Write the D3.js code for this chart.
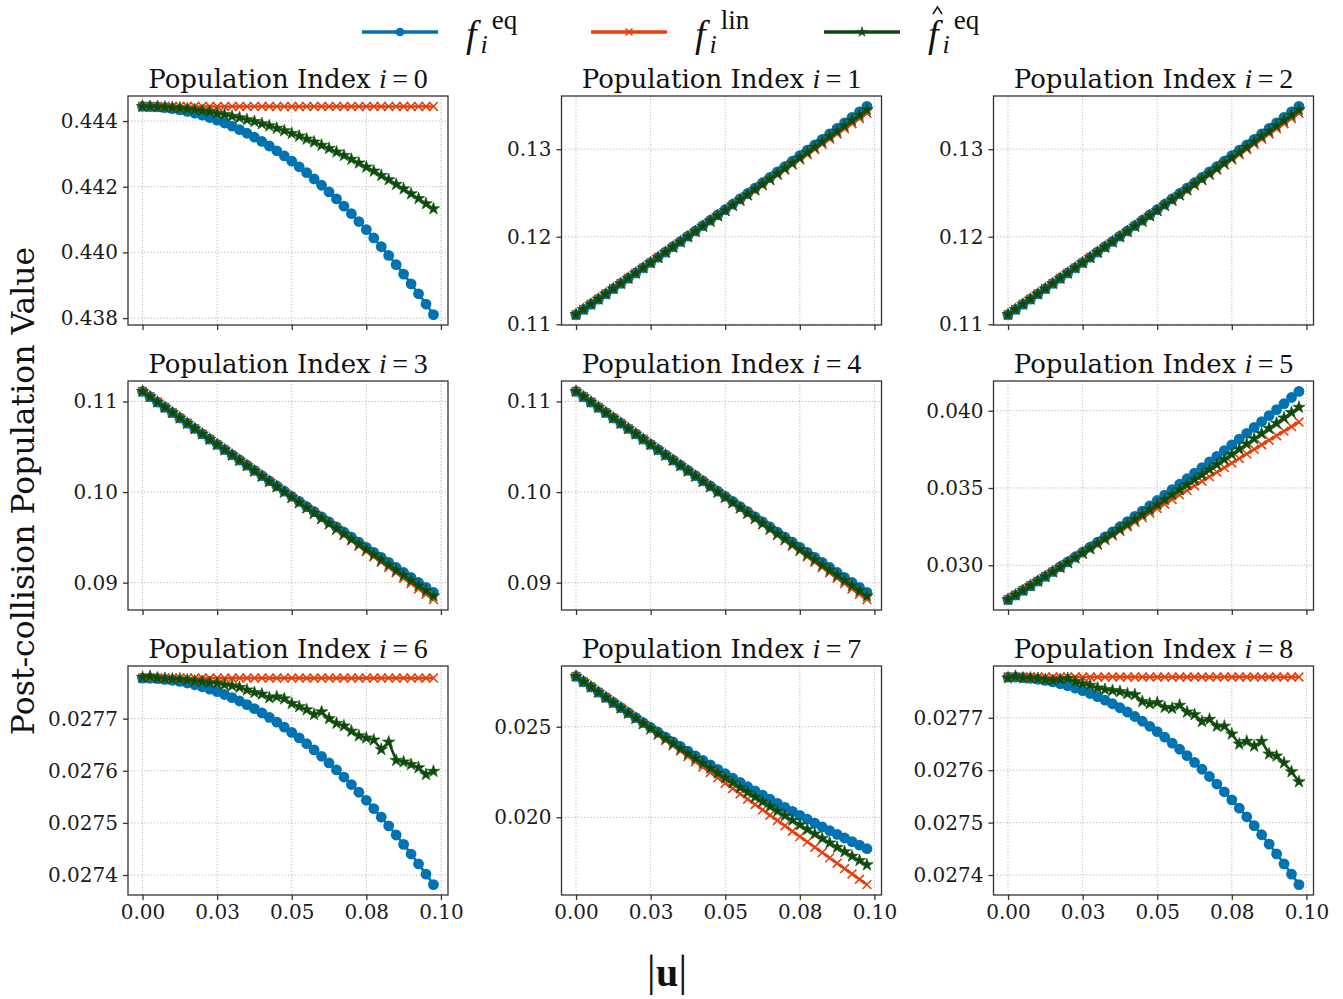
<!DOCTYPE html>
<html>
<head>
<meta charset="utf-8">
<script src="https://cdn.jsdelivr.net/npm/d3@7"></script>
<style>
  html, body { margin: 0; padding: 0; background: #ffffff; }
  svg { display: block; }
</style>
</head>
<body>
<script>
// Speed magnitude |u| sampled for every population
const uMag = [0, 0.0025, 0.005, 0.0075, 0.01, 0.0125, 0.015, 0.0175, 0.02, 0.0225,
  0.025, 0.0275, 0.03, 0.0325, 0.035, 0.0375, 0.04, 0.0425, 0.045, 0.0475,
  0.05, 0.0525, 0.055, 0.0575, 0.06, 0.0625, 0.065, 0.0675, 0.07, 0.0725,
  0.075, 0.0775, 0.08, 0.0825, 0.085, 0.0875, 0.09, 0.0925, 0.095, 0.0975];

// i = 0 (rest population)
const eqI0 = [0.444444, 0.444440, 0.444428, 0.444407, 0.444378, 0.444340, 0.444294, 0.444240, 0.444178, 0.444107,
  0.444028, 0.443940, 0.443844, 0.443740, 0.443628, 0.443507, 0.443378, 0.443240, 0.443094, 0.442940,
  0.442778, 0.442607, 0.442428, 0.442240, 0.442044, 0.441840, 0.441628, 0.441407, 0.441178, 0.440940,
  0.440694, 0.440440, 0.440178, 0.439907, 0.439628, 0.439340, 0.439044, 0.438740, 0.438428, 0.438107];
const linI0 = [0.444444, 0.444444, 0.444444, 0.444444, 0.444444, 0.444444, 0.444444, 0.444444, 0.444444, 0.444444,
  0.444444, 0.444444, 0.444444, 0.444444, 0.444444, 0.444444, 0.444444, 0.444444, 0.444444, 0.444444,
  0.444444, 0.444444, 0.444444, 0.444444, 0.444444, 0.444444, 0.444444, 0.444444, 0.444444, 0.444444,
  0.444444, 0.444444, 0.444444, 0.444444, 0.444444, 0.444444, 0.444444, 0.444444, 0.444444, 0.444444];
const predI0 = [0.444445, 0.444441, 0.444434, 0.444425, 0.444410, 0.444394, 0.444369, 0.444345, 0.444311, 0.444279,
  0.444237, 0.444197, 0.444147, 0.444099, 0.444040, 0.443984, 0.443917, 0.443853, 0.443778, 0.443705,
  0.443622, 0.443541, 0.443450, 0.443361, 0.443261, 0.443164, 0.443056, 0.442951, 0.442835, 0.442721,
  0.442597, 0.442475, 0.442343, 0.442213, 0.442072, 0.441934, 0.441785, 0.441639, 0.441482, 0.441327];

// i = 1, 2 (axis directions aligned with the flow)
const eqAxisFwd = [0.111111, 0.111701, 0.112292, 0.112884, 0.113476, 0.114070, 0.114666, 0.115262, 0.115858, 0.116456,
  0.117056, 0.117656, 0.118257, 0.118859, 0.119463, 0.120067, 0.120672, 0.121279, 0.121887, 0.122495,
  0.123104, 0.123715, 0.124327, 0.124940, 0.125553, 0.126168, 0.126784, 0.127401, 0.128018, 0.128637,
  0.129258, 0.129879, 0.130500, 0.131124, 0.131748, 0.132373, 0.132999, 0.133627, 0.134255, 0.134884];
const linAxisFwd = [0.111111, 0.111700, 0.112290, 0.112879, 0.113468, 0.114057, 0.114647, 0.115236, 0.115825, 0.116414,
  0.117004, 0.117593, 0.118182, 0.118771, 0.119361, 0.119950, 0.120539, 0.121128, 0.121718, 0.122307,
  0.122896, 0.123485, 0.124075, 0.124664, 0.125253, 0.125842, 0.126432, 0.127021, 0.127610, 0.128199,
  0.128789, 0.129378, 0.129967, 0.130557, 0.131146, 0.131735, 0.132324, 0.132914, 0.133503, 0.134092];
const predAxisFwd = [0.111111, 0.111700, 0.112291, 0.112881, 0.113472, 0.114064, 0.114656, 0.115249, 0.115842, 0.116435,
  0.117030, 0.117625, 0.118220, 0.118815, 0.119412, 0.120009, 0.120606, 0.121203, 0.121802, 0.122401,
  0.123000, 0.123600, 0.124201, 0.124802, 0.125403, 0.126005, 0.126608, 0.127211, 0.127814, 0.128418,
  0.129023, 0.129628, 0.130234, 0.130841, 0.131447, 0.132054, 0.132662, 0.133271, 0.133879, 0.134488];

// i = 3, 4 (axis directions against the flow)
const eqAxisBwd = [0.111111, 0.110523, 0.109934, 0.109348, 0.108762, 0.108178, 0.107594, 0.107012, 0.106430, 0.105850,
  0.105270, 0.104692, 0.104115, 0.103539, 0.102963, 0.102389, 0.101816, 0.101245, 0.100673, 0.100103,
  0.099534, 0.098967, 0.098399, 0.097834, 0.097269, 0.096706, 0.096142, 0.095581, 0.095020, 0.094461,
  0.093902, 0.093345, 0.092788, 0.092232, 0.091678, 0.091125, 0.090573, 0.090021, 0.089471, 0.088922];
const linAxisBwd = [0.111111, 0.110522, 0.109932, 0.109343, 0.108754, 0.108165, 0.107575, 0.106986, 0.106397, 0.105808,
  0.105218, 0.104629, 0.104040, 0.103451, 0.102861, 0.102272, 0.101683, 0.101094, 0.100504, 0.099915,
  0.099326, 0.098737, 0.098147, 0.097558, 0.096969, 0.096380, 0.095790, 0.095201, 0.094612, 0.094023,
  0.093433, 0.092844, 0.092255, 0.091665, 0.091076, 0.090487, 0.089898, 0.089308, 0.088719, 0.088130];
const predAxisBwd = [0.111111, 0.110522, 0.109933, 0.109345, 0.108758, 0.108172, 0.107584, 0.106999, 0.106414, 0.105829,
  0.105244, 0.104661, 0.104078, 0.103495, 0.102912, 0.102331, 0.101750, 0.101169, 0.100588, 0.100009,
  0.099430, 0.098852, 0.098273, 0.097696, 0.097119, 0.096543, 0.095966, 0.095391, 0.094816, 0.094242,
  0.093667, 0.093094, 0.092522, 0.091949, 0.091377, 0.090806, 0.090236, 0.089665, 0.089095, 0.088526];

// i = 5 (diagonal along the flow)
const eqI5 = [0.027778, 0.028073, 0.028372, 0.028674, 0.028977, 0.029284, 0.029593, 0.029904, 0.030218, 0.030535,
  0.030854, 0.031177, 0.031501, 0.031828, 0.032158, 0.032490, 0.032825, 0.033162, 0.033503, 0.033846,
  0.034191, 0.034539, 0.034890, 0.035243, 0.035599, 0.035958, 0.036318, 0.036682, 0.037048, 0.037417,
  0.037789, 0.038162, 0.038539, 0.038919, 0.039300, 0.039685, 0.040072, 0.040462, 0.040854, 0.041249];
const linI5 = [0.027778, 0.028072, 0.028367, 0.028662, 0.028956, 0.029251, 0.029546, 0.029840, 0.030135, 0.030429,
  0.030724, 0.031019, 0.031313, 0.031608, 0.031903, 0.032197, 0.032492, 0.032786, 0.033081, 0.033376,
  0.033670, 0.033965, 0.034260, 0.034554, 0.034849, 0.035144, 0.035438, 0.035733, 0.036027, 0.036322,
  0.036617, 0.036911, 0.037206, 0.037501, 0.037795, 0.038090, 0.038384, 0.038679, 0.038974, 0.039268];
const predI5 = [0.027778, 0.028073, 0.028370, 0.028668, 0.028966, 0.029267, 0.029569, 0.029871, 0.030175, 0.030480,
  0.030787, 0.031095, 0.031403, 0.031714, 0.032026, 0.032338, 0.032652, 0.032967, 0.033284, 0.033602,
  0.033920, 0.034241, 0.034563, 0.034885, 0.035209, 0.035535, 0.035861, 0.036189, 0.036517, 0.036848,
  0.037180, 0.037512, 0.037846, 0.038182, 0.038518, 0.038856, 0.039194, 0.039535, 0.039877, 0.040219];

// i = 6, 8 (diagonals perpendicular to the flow)
const eqDiagPerp = [0.0277778, 0.0277775, 0.0277768, 0.0277754, 0.0277736, 0.0277713, 0.0277684, 0.0277650, 0.0277611, 0.0277567,
  0.0277518, 0.0277463, 0.0277403, 0.0277338, 0.0277268, 0.0277192, 0.0277111, 0.0277025, 0.0276934, 0.0276838,
  0.0276736, 0.0276630, 0.0276518, 0.0276400, 0.0276278, 0.0276150, 0.0276018, 0.0275880, 0.0275736, 0.0275588,
  0.0275434, 0.0275275, 0.0275111, 0.0274942, 0.0274768, 0.0274588, 0.0274403, 0.0274213, 0.0274018, 0.0273817];
const linDiagPerp = [0.0277778, 0.0277778, 0.0277778, 0.0277778, 0.0277778, 0.0277778, 0.0277778, 0.0277778, 0.0277778, 0.0277778,
  0.0277778, 0.0277778, 0.0277778, 0.0277778, 0.0277778, 0.0277778, 0.0277778, 0.0277778, 0.0277778, 0.0277778,
  0.0277778, 0.0277778, 0.0277778, 0.0277778, 0.0277778, 0.0277778, 0.0277778, 0.0277778, 0.0277778, 0.0277778,
  0.0277778, 0.0277778, 0.0277778, 0.0277778, 0.0277778, 0.0277778, 0.0277778, 0.0277778, 0.0277778, 0.0277778];
const predI6 = [0.027779, 0.027781, 0.027778, 0.027777, 0.027776, 0.027776, 0.027774, 0.027772, 0.027771, 0.027769,
  0.027768, 0.027765, 0.027763, 0.027760, 0.027755, 0.027750, 0.027747, 0.027740, 0.027742, 0.027738,
  0.027729, 0.027723, 0.027717, 0.027708, 0.027713, 0.027700, 0.027691, 0.027686, 0.027676, 0.027667,
  0.027663, 0.027659, 0.027641, 0.027655, 0.027620, 0.027617, 0.027612, 0.027606, 0.027593, 0.027599];
const predI8 = [0.027776, 0.027779, 0.027776, 0.027776, 0.027775, 0.027773, 0.027771, 0.027773, 0.027775, 0.027769,
  0.027765, 0.027762, 0.027757, 0.027754, 0.027752, 0.027750, 0.027746, 0.027744, 0.027731, 0.027727,
  0.027729, 0.027720, 0.027718, 0.027724, 0.027711, 0.027706, 0.027693, 0.027697, 0.027684, 0.027684,
  0.027669, 0.027650, 0.027655, 0.027646, 0.027655, 0.027631, 0.027627, 0.027614, 0.027597, 0.027578];

// i = 7 (diagonal against the flow)
const eqI7 = [0.027778, 0.027484, 0.027194, 0.026906, 0.026620, 0.026338, 0.026057, 0.025779, 0.025504, 0.025232,
  0.024961, 0.024695, 0.024430, 0.024168, 0.023908, 0.023651, 0.023397, 0.023145, 0.022896, 0.022650,
  0.022406, 0.022165, 0.021926, 0.021690, 0.021457, 0.021226, 0.020997, 0.020772, 0.020549, 0.020328,
  0.020111, 0.019895, 0.019683, 0.019473, 0.019265, 0.019061, 0.018859, 0.018659, 0.018462, 0.018268];
const linI7 = [0.027778, 0.027483, 0.027189, 0.026894, 0.026599, 0.026305, 0.026010, 0.025715, 0.025421, 0.025126,
  0.024831, 0.024537, 0.024242, 0.023948, 0.023653, 0.023358, 0.023064, 0.022769, 0.022474, 0.022180,
  0.021885, 0.021591, 0.021296, 0.021001, 0.020707, 0.020412, 0.020117, 0.019823, 0.019528, 0.019233,
  0.018939, 0.018644, 0.018350, 0.018055, 0.017760, 0.017466, 0.017171, 0.016876, 0.016582, 0.016287];
const predI7 = [0.027778, 0.027484, 0.027192, 0.026900, 0.026610, 0.026323, 0.026036, 0.025750, 0.025467, 0.025184,
  0.024903, 0.024624, 0.024345, 0.024069, 0.023793, 0.023519, 0.023247, 0.022976, 0.022706, 0.022439,
  0.022171, 0.021907, 0.021643, 0.021380, 0.021120, 0.020860, 0.020601, 0.020345, 0.020089, 0.019835,
  0.019584, 0.019332, 0.019083, 0.018835, 0.018588, 0.018343, 0.018099, 0.017856, 0.017616, 0.017376];

// Tick positions and labels
const xTickValues = [0, 0.025, 0.05, 0.075, 0.1];
const xTickLabels = ["0.00", "0.03", "0.05", "0.08", "0.10"];
const yTicksI0 = [0.438, 0.440, 0.442, 0.444];
const yLabelsI0 = ["0.438", "0.440", "0.442", "0.444"];
const yTicksFwd = [0.11, 0.12, 0.13];
const yLabelsFwd = ["0.11", "0.12", "0.13"];
const yTicksBwd = [0.09, 0.10, 0.11];
const yLabelsBwd = ["0.09", "0.10", "0.11"];
const yTicksI5 = [0.030, 0.035, 0.040];
const yLabelsI5 = ["0.030", "0.035", "0.040"];
const yTicksPerp = [0.0274, 0.0275, 0.0276, 0.0277];
const yLabelsPerp = ["0.0274", "0.0275", "0.0276", "0.0277"];
const yTicksI7 = [0.020, 0.025];
const yLabelsI7 = ["0.020", "0.025"];

const panels = [
  { index: 0, eq: eqI0, lin: linI0, pred: predI0, yTicks: yTicksI0, yLabels: yLabelsI0 },
  { index: 1, eq: eqAxisFwd, lin: linAxisFwd, pred: predAxisFwd, yTicks: yTicksFwd, yLabels: yLabelsFwd },
  { index: 2, eq: eqAxisFwd, lin: linAxisFwd, pred: predAxisFwd, yTicks: yTicksFwd, yLabels: yLabelsFwd },
  { index: 3, eq: eqAxisBwd, lin: linAxisBwd, pred: predAxisBwd, yTicks: yTicksBwd, yLabels: yLabelsBwd },
  { index: 4, eq: eqAxisBwd, lin: linAxisBwd, pred: predAxisBwd, yTicks: yTicksBwd, yLabels: yLabelsBwd },
  { index: 5, eq: eqI5, lin: linI5, pred: predI5, yTicks: yTicksI5, yLabels: yLabelsI5 },
  { index: 6, eq: eqDiagPerp, lin: linDiagPerp, pred: predI6, yTicks: yTicksPerp, yLabels: yLabelsPerp },
  { index: 7, eq: eqI7, lin: linI7, pred: predI7, yTicks: yTicksI7, yLabels: yLabelsI7 },
  { index: 8, eq: eqDiagPerp, lin: linDiagPerp, pred: predI8, yTicks: yTicksPerp, yLabels: yLabelsPerp }
];

const colors = { eq: "#0173b2", lin: "#e5400d", pred: "#0f480c" };

// Figure layout
const FIG_W = 1343, FIG_H = 999;
const colLeft = [128, 561.5, 993.5];
const rowTop = [96, 381, 666];
const AX_W = 320, AX_H = 229;
const SERIF = "'DejaVu Serif', serif";
const MATH = "'Liberation Serif', 'Times New Roman', serif";

const svg = d3.select("body").append("svg")
  .attr("width", FIG_W).attr("height", FIG_H)
  .attr("viewBox", `0 0 ${FIG_W} ${FIG_H}`);
svg.append("rect").attr("width", FIG_W).attr("height", FIG_H).attr("fill", "#ffffff");

// matplotlib-style 5% autoscale margin
function padded(ext) {
  const span = ext[1] - ext[0];
  return [ext[0] - 0.05 * span, ext[1] + 0.05 * span];
}

const starPath = d3.symbol().type(d3.symbolStar);
const circlePath = d3.symbol().type(d3.symbolCircle);

function drawMarker(sel, kind, scale) {
  const s = scale || 1;
  if (kind === "eq") {
    sel.append("path").attr("d", circlePath.size(Math.PI * Math.pow(5.4 * s, 2))())
      .attr("fill", colors.eq);
  } else if (kind === "lin") {
    const r = 4.4 * s;
    sel.append("path").attr("d", `M${-r},${-r}L${r},${r}M${-r},${r}L${r},${-r}`)
      .attr("stroke", colors.lin).attr("stroke-width", 1.6).attr("fill", "none");
  } else {
    sel.append("path").attr("d", starPath.size(48 * s * s)())
      .attr("fill", colors.pred).attr("stroke", "#1d5a18").attr("stroke-width", 0.7);
  }
}

panels.forEach((p, n) => {
  const col = n % 3, row = Math.floor(n / 3);
  const g = svg.append("g").attr("transform", `translate(${colLeft[col]},${rowTop[row]})`);

  const x = d3.scaleLinear().domain(padded(d3.extent(uMag))).range([0, AX_W]);
  const y = d3.scaleLinear()
    .domain(padded(d3.extent(p.eq.concat(p.lin, p.pred))))
    .range([AX_H, 0]);

  // dotted grid
  g.append("g").selectAll("line").data(xTickValues).join("line")
    .attr("x1", d => x(d)).attr("x2", d => x(d)).attr("y1", 0).attr("y2", AX_H)
    .attr("stroke", "#b8b8b8").attr("stroke-width", 1).attr("stroke-dasharray", "1.2,2");
  g.append("g").selectAll("line").data(p.yTicks).join("line")
    .attr("x1", 0).attr("x2", AX_W).attr("y1", d => y(d)).attr("y2", d => y(d))
    .attr("stroke", "#b8b8b8").attr("stroke-width", 1).attr("stroke-dasharray", "1.2,2");

  // series: line then markers, in legend order
  const series = [["eq", p.eq], ["lin", p.lin], ["pred", p.pred]];
  series.forEach(([kind, vals]) => {
    const pts = uMag.map((u, k) => [x(u), y(vals[k])]);
    g.append("path").attr("d", d3.line()(pts))
      .attr("fill", "none").attr("stroke", colors[kind])
      .attr("stroke-width", 2.6).attr("stroke-linejoin", "round");
    const mg = g.append("g");
    pts.forEach(([px, py]) => {
      drawMarker(mg.append("g").attr("transform", `translate(${px},${py})`), kind, 1);
    });
  });

  // frame
  g.append("rect").attr("width", AX_W).attr("height", AX_H)
    .attr("fill", "none").attr("stroke", "#333333").attr("stroke-width", 1.3);

  // axes: shared x, so only the bottom row carries tick labels
  const bottomRow = row === 2;
  const xAxis = d3.axisBottom(x).tickValues(xTickValues)
    .tickFormat((d, i) => bottomRow ? xTickLabels[i] : "")
    .tickSize(5).tickPadding(5).tickSizeOuter(0);
  const yAxis = d3.axisLeft(y).tickValues(p.yTicks)
    .tickFormat((d, i) => p.yLabels[i]).tickSize(5).tickPadding(5).tickSizeOuter(0);
  const xg = g.append("g").attr("transform", `translate(0,${AX_H})`).call(xAxis);
  if (!bottomRow) xg.selectAll(".tick text").remove();
  [xg, g.append("g").call(yAxis)].forEach(a => {
    a.select(".domain").remove();
    a.selectAll(".tick line").attr("stroke", "#333333").attr("stroke-width", 1.3);
    a.selectAll(".tick text").attr("fill", "#1a1a1a")
      .style("font-family", SERIF).style("font-size", "20px");
  });

  // panel title
  const t = g.append("text").attr("x", AX_W / 2).attr("y", -8)
    .attr("text-anchor", "middle").attr("fill", "#111")
    .style("font-family", SERIF).style("font-size", "26px");
  t.append("tspan").text("Population Index ");
  t.append("tspan").style("font-family", MATH).style("font-style", "italic")
    .style("font-size", "28px").text("i");
  t.append("tspan").style("font-family", MATH).style("font-size", "28px")
    .text("\u2009=\u2009" + p.index);
});

// shared axis labels
svg.append("text")
  .attr("transform", "translate(34,491) rotate(-90)")
  .attr("text-anchor", "middle").attr("fill", "#111")
  .style("font-family", SERIF).style("font-size", "31.5px")
  .text("Post-collision Population Value");

const xl = svg.append("text").attr("x", 667).attr("y", 986)
  .attr("text-anchor", "middle").attr("fill", "#111")
  .style("font-family", MATH);
xl.append("tspan").style("font-size", "45px").text("|");
xl.append("tspan").style("font-size", "40px").style("font-weight", "bold").text("u");
xl.append("tspan").style("font-size", "45px").text("|");

// legend
const legendItems = [
  { kind: "eq", x0: 362, sup: "eq", hat: false },
  { kind: "lin", x0: 591, sup: "lin", hat: false },
  { kind: "pred", x0: 824, sup: "eq", hat: true }
];
const legY = 32;
legendItems.forEach(it => {
  const lg = svg.append("g");
  lg.append("line").attr("x1", it.x0).attr("x2", it.x0 + 76)
    .attr("y1", legY).attr("y2", legY)
    .attr("stroke", colors[it.kind]).attr("stroke-width", 3.6);
  drawMarker(lg.append("g").attr("transform", `translate(${it.x0 + 38},${legY})`), it.kind, 0.8);

  const fx = it.x0 + 104;
  if (it.hat) {
    // circumflex accent over f
    lg.append("path")
      .attr("d", `M${fx + 5},${14}L${fx + 9.5},${7}L${fx + 14},${14}`)
      .attr("fill", "none").attr("stroke", "#111").attr("stroke-width", 1.5);
  }
  const lt = lg.append("text").attr("x", fx).attr("y", 47)
    .style("font-family", MATH).attr("fill", "#111");
  lt.append("tspan").style("font-style", "italic").style("font-size", "38px").text("f");
  lt.append("tspan").attr("dx", 4).attr("dy", 6)
    .style("font-style", "italic").style("font-size", "26px").text("i");
  lt.append("tspan").attr("dx", 4).attr("dy", -24)
    .style("font-size", "27px").text(it.sup);
});
</script>
</body>
</html>
